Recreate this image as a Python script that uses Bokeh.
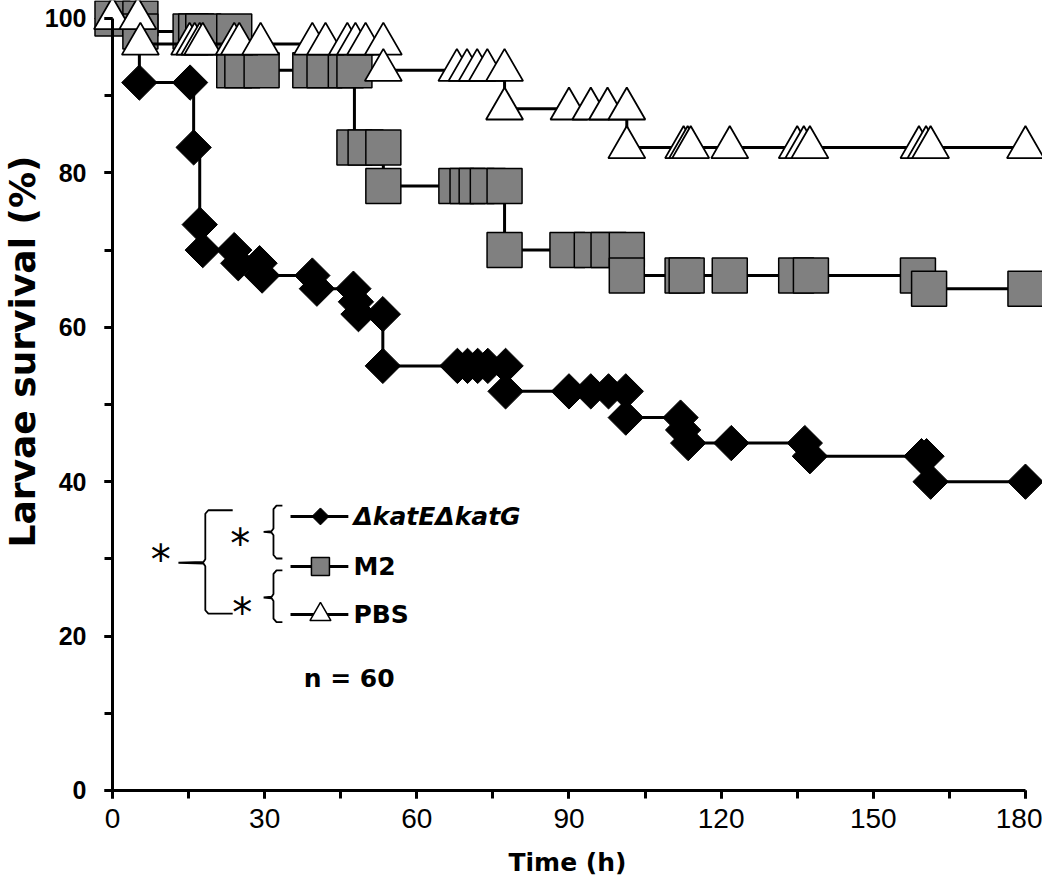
import numpy as np
from bokeh.plotting import figure
from bokeh.models import Range1d, SingleIntervalTicker
from bokeh.core.properties import value
from bokeh.embed import file_html
from bokeh.resources import INLINE

# ---------------- data ----------------
series_names = ["\u0394katE\u0394katG", "M2", "PBS"]

katEG_t = [0, 5.3, 15.3, 16.0, 17.2, 17.8, 24.0, 24.8, 29.0, 29.5, 39.4, 40.3, 47.5, 48.0,
           48.5, 53.3, 53.3, 68.0, 70.0, 72.0, 74.0, 77.5, 77.5, 90.0, 94.3, 97.8, 101.2,
           101.2, 112.0, 112.5, 113.5, 122.0, 136.5, 137.5, 159.5, 160.5, 161.3, 180.0]
katEG_s = [100, 91.7, 91.7, 83.3, 73.3, 70.0, 70.0, 68.3, 68.3, 66.7, 66.7, 65.0, 65.0, 63.3,
           61.7, 61.7, 55.0, 55.0, 55.0, 55.0, 55.0, 55.0, 51.7, 51.7, 51.7, 51.7, 51.7,
           48.3, 48.3, 46.7, 45.0, 45.0, 45.0, 43.3, 43.3, 43.3, 40.0, 40.0]

m2_t = [0, 5.5, 5.5, 15.4, 16.5, 17.9, 24.0, 24.0, 25.6, 29.4, 39.0, 41.8, 46.0, 47.7, 47.7,
        49.9, 53.4, 53.4, 67.8, 70.0, 71.8, 74.0, 77.3, 77.3, 89.7, 94.5, 97.8, 101.4,
        101.4, 112.4, 113.2, 121.7, 134.8, 137.7, 158.8, 161.0, 180.0]
m2_s = [100, 100, 98.3, 98.3, 98.3, 98.3, 98.3, 93.3, 93.3, 93.3, 93.3, 93.3, 93.3, 93.3, 83.3,
        83.3, 83.3, 78.3, 78.3, 78.3, 78.3, 78.3, 78.3, 70.0, 70.0, 70.0, 70.0, 70.0,
        66.7, 66.7, 66.7, 66.7, 66.7, 66.7, 66.7, 65.0, 65.0]

pbs_t = [0, 5.0, 5.5, 15.2, 16.2, 17.2, 17.8, 24.0, 25.0, 29.2, 39.4, 42.0, 46.3, 47.9, 49.9,
         53.4, 53.4, 67.9, 69.9, 71.9, 73.9, 77.3, 77.3, 90.0, 94.3, 97.6, 101.4, 101.4,
         112.6, 113.4, 114.0, 121.7, 135.0, 136.3, 137.5, 159.0, 160.4, 161.3, 180.0]
pbs_s = [100, 100, 96.7, 96.7, 96.7, 96.7, 96.7, 96.7, 96.7, 96.7, 96.7, 96.7, 96.7, 96.7, 96.7,
         96.7, 93.3, 93.3, 93.3, 93.3, 93.3, 93.3, 88.3, 88.3, 88.3, 88.3, 88.3, 83.3,
         83.3, 83.3, 83.3, 83.3, 83.3, 83.3, 83.3, 83.3, 83.3, 83.3, 83.3]

x_tick_interval = 30
y_tick_interval = 20
x_title = "Time (h)"
y_title = "Larvae survival (%)"
n_text = "n = 60"

# ---------------- figure: the frame fills the whole canvas ----------------
p = figure(width=1042, height=880,
           x_range=Range1d(-22.08, 183.36), y_range=Range1d(-11.66, 102.33),
           output_backend="svg", toolbar_location=None,
           min_border=0, min_border_left=0, min_border_right=0,
           min_border_top=0, min_border_bottom=0)
p.outline_line_color = None
p.xgrid.visible = False
p.ygrid.visible = False
p.background_fill_color = "white"
p.border_fill_color = "white"

xax = p.xaxis[0]
xax.ticker = SingleIntervalTicker(interval=x_tick_interval, num_minor_ticks=2)
xax.bounds = (0, 180)
xax.fixed_location = 0
yax = p.yaxis[0]
yax.ticker = SingleIntervalTicker(interval=y_tick_interval, num_minor_ticks=2)
yax.bounds = (0, 100)
yax.fixed_location = 0

for ax in (xax, yax):
    ax.axis_line_width = 3
    ax.axis_line_color = "black"
    ax.major_tick_line_width = 3
    ax.minor_tick_line_width = 3
    ax.major_tick_out = 8
    ax.major_tick_in = 0
    ax.minor_tick_out = 8
    ax.minor_tick_in = 0
    ax.major_label_text_color = "black"

xax.major_label_text_font = "Liberation Sans"
xax.major_label_text_font_size = "28px"
xax.major_label_standoff = 11

yax.major_label_text_font = "Liberation Sans"
yax.major_label_text_font_style = "bold"
yax.major_label_text_font_size = "25px"
yax.major_label_standoff = 18

# axis titles
p.text(x=[89.7], y=[-9.33], text=[x_title], text_align="center", text_baseline="middle",
       text_font=value("DejaVu Sans"), text_font_style="bold",
       text_font_size="25px", text_color="black")
p.text(x=[-17.74], y=[56.87], text=[y_title], angle=np.pi / 2,
       text_align="center", text_baseline="middle",
       text_font=value("DejaVu Sans"), text_font_style="bold",
       text_font_size="36px", text_color="black")

# ---------------- series ----------------
p.step(katEG_t, katEG_s, mode="after", line_width=3, line_color="black")
p.scatter(katEG_t, katEG_s, marker="square", angle=np.pi / 4, size=25,
          fill_color="black", line_color="black", line_width=1)

p.step(m2_t, m2_s, mode="after", line_width=3, line_color="black")
p.scatter(m2_t, m2_s, marker="square", size=35,
          fill_color="#808080", line_color="black", line_width=1.5)

p.step(pbs_t, pbs_s, mode="after", line_width=3, line_color="black")
p.scatter(pbs_t, pbs_s, marker="triangle", size=37,
          fill_color="white", line_color="black", line_width=1.8)

# ---------------- legend (drawn by hand) ----------------
leg_y = [35.5, 29.0, 22.8]
for yy in leg_y:
    p.line([35.1, 46.5], [yy, yy], line_width=3, line_color="black")
p.scatter([41.0], [leg_y[0]], marker="square", angle=np.pi / 4, size=12,
          fill_color="black", line_color="black")
p.scatter([41.0], [leg_y[1]], marker="square", size=18,
          fill_color="#808080", line_color="black", line_width=1.5)
p.scatter([41.0], [leg_y[2]], marker="triangle", size=21,
          fill_color="white", line_color="black", line_width=1.5)

p.text(x=[47.5], y=[leg_y[0]], text=[series_names[0]], text_baseline="middle",
       text_font=value("DejaVu Sans"), text_font_style="bold italic",
       text_font_size="25px", text_color="black")
p.text(x=[47.5, 47.5], y=leg_y[1:], text=series_names[1:], text_baseline="middle",
       text_font=value("DejaVu Sans"), text_font_style="bold",
       text_font_size="25px", text_color="black")
p.text(x=[37.7], y=[14.5], text=[n_text], text_baseline="middle",
       text_font=value("DejaVu Sans"), text_font_style="bold",
       text_font_size="25px", text_color="black")


def brace(x_spine, x_arm, x_tip, y_top, y_bot, y_tip, dx=0.6, dy=0.45):
    xs = [x_arm, x_spine + dx, x_spine, x_spine, x_spine - dx * 0.6, x_tip,
          x_spine - dx * 0.6, x_spine, x_spine, x_spine + dx, x_arm]
    ys = [y_top, y_top, y_top - dy, y_tip + dy, y_tip + 0.1, y_tip,
          y_tip - 0.1, y_tip - dy, y_bot + dy, y_bot, y_bot]
    p.line(xs, ys, line_width=1.8, line_color="black")


brace(31.74, 33.5, 29.8, 36.9, 30.05, 33.5)
brace(31.74, 33.5, 29.8, 28.5, 21.8, 25.0)
brace(18.3, 23.7, 13.0, 36.3, 22.9, 29.5)

p.text(x=[9.5, 25.2, 25.6], y=[29.8, 31.9, 23.0], text=["*", "*", "*"],
       text_align="center", text_baseline="middle",
       text_font=value("DejaVu Sans"), text_font_size="40px", text_color="black")

open("out.html", "w").write(file_html(p, INLINE))
